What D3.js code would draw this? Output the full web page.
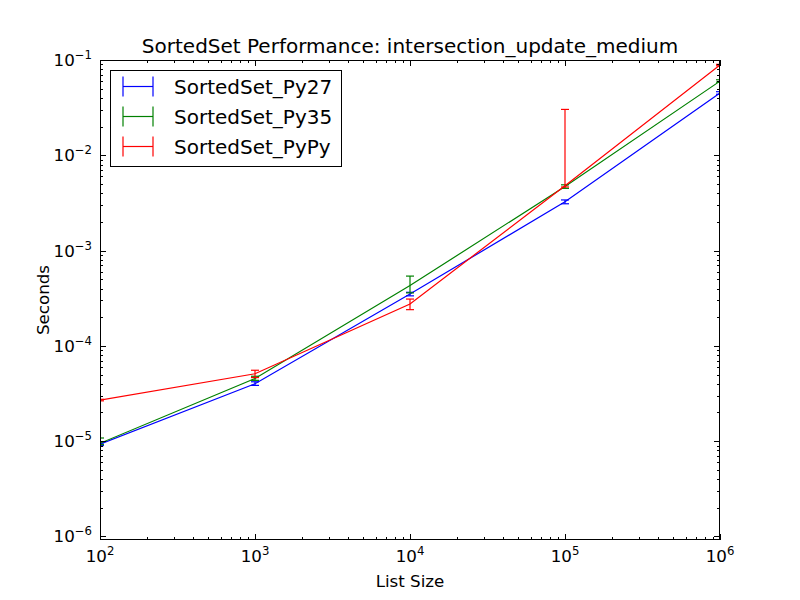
<!DOCTYPE html>
<html><head><meta charset="utf-8">
<script src="https://cdn.jsdelivr.net/npm/d3@7"></script>
<style>body{margin:0;background:#fff} text{font-family:"DejaVu Sans",sans-serif;fill:#000}</style>
</head><body><svg id="c" width="800" height="600"></svg>
<script>
// ---- data ----
const listSizes = [1e2, 1e3, 1e4, 1e5, 1e6];
const seriesNames = ["SortedSet_Py27", "SortedSet_Py35", "SortedSet_PyPy"];
const py27Mean = [9.3e-6, 4.0e-5, 3.5e-4, 3.25e-3, 0.0450];
const py27Low  = [9.0e-6, 3.85e-5, 3.35e-4, 3.1e-3, 0.0437];
const py27High = [9.6e-6, 4.2e-5, 3.65e-4, 3.4e-3, 0.0465];
const py35Mean = [9.5e-6, 4.55e-5, 4.3e-4, 4.7e-3, 0.0600];
const py35Low  = [9.2e-6, 4.35e-5, 3.6e-4, 4.5e-3, 0.0585];
const py35High = [1.08e-5, 4.8e-5, 5.4e-4, 4.9e-3, 0.0620];
const pypyMean = [2.7e-5, 5.1e-5, 2.75e-4, 4.8e-3, 0.0885];
const pypyLow  = [2.65e-5, 4.65e-5, 2.4e-4, 4.65e-3, 0.0870];
const pypyHigh = [2.75e-5, 5.55e-5, 3.1e-4, 0.0303, 0.0900];
const seriesColors = ["#0000ff", "#008000", "#ff0000"];
const titleText = "SortedSet Performance: intersection_update_medium";
const xLabelText = "List Size";
const yLabelText = "Seconds";

const series = [
  {name: seriesNames[0], mean: py27Mean, lo: py27Low, hi: py27High, color: seriesColors[0]},
  {name: seriesNames[1], mean: py35Mean, lo: py35Low, hi: py35High, color: seriesColors[1]},
  {name: seriesNames[2], mean: pypyMean, lo: pypyLow, hi: pypyHigh, color: seriesColors[2]},
];

// ---- layout ----
const L = 100, R = 720, T = 60, B = 540;
const svg = d3.select("#c");
const x = d3.scaleLog().domain([1e2, 1e6]).range([L, R]);
const y = d3.scaleLog().domain([Math.pow(10, -6.037), 0.1]).range([B, T]);

svg.append("defs").append("clipPath").attr("id", "clip")
  .append("rect").attr("x", L).attr("y", T).attr("width", R - L).attr("height", B - T);

const g = svg.append("g").attr("clip-path", "url(#clip)");
const line = d3.line().x(d => x(d[0])).y(d => y(d[1]));
series.forEach(s => {
  const pts = listSizes.map((v, i) => [v, s.mean[i]]);
  g.append("path").attr("d", line(pts)).attr("fill", "none")
    .attr("stroke", s.color).attr("stroke-width", 1.2);
  listSizes.forEach((v, i) => {
    const cx = x(v), y0 = y(s.lo[i]), y1 = y(s.hi[i]);
    g.append("line").attr("x1", cx).attr("x2", cx).attr("y1", y0).attr("y2", y1)
      .attr("stroke", s.color).attr("stroke-width", 1.2);
    [y0, y1].forEach(yy => g.append("line").attr("x1", cx - 4).attr("x2", cx + 4)
      .attr("y1", yy).attr("y2", yy).attr("stroke", s.color).attr("stroke-width", 1.2));
  });
});

// ---- ticks ----
const isMajor = v => Math.abs(Math.log10(v) - Math.round(Math.log10(v))) < 1e-9;
const exp = v => Math.round(Math.log10(v));
const tk = svg.append("g").attr("stroke", "#000").attr("stroke-width", 1);
x.ticks().forEach(v => {
  const px = Math.round(x(v)) + 0.5, len = isMajor(v) ? 6 : 3;
  tk.append("line").attr("x1", px).attr("x2", px).attr("y1", B).attr("y2", B - len);
  tk.append("line").attr("x1", px).attr("x2", px).attr("y1", T).attr("y2", T + len);
});
const yTicks = d3.range(-6, 0).flatMap(e => d3.range(1, 10).map(m => m * Math.pow(10, e)))
  .filter(v => v >= y.domain()[0] * 0.999 && v <= 0.1001);
yTicks.forEach(v => {
  const py = Math.round(y(v)) + 0.5, len = isMajor(v) ? 6 : 3;
  tk.append("line").attr("x1", L).attr("x2", L + len).attr("y1", py).attr("y2", py);
  tk.append("line").attr("x1", R).attr("x2", R - len).attr("y1", py).attr("y2", py);
});

function powLabel(sel, e) {
  sel.append("tspan").text("10");
  sel.append("tspan").attr("font-size", "11.7px").attr("dy", -7).text(String(e).replace("-", "\u2212"));
}
listSizes.forEach(v => {
  const t = svg.append("text").attr("x", x(v)).attr("y", 562).attr("text-anchor", "middle")
    .attr("font-size", "16.7px");
  powLabel(t, exp(v));
});
yTicks.filter(isMajor).forEach(v => {
  const t = svg.append("text").attr("x", 92).attr("y", y(v) + 6).attr("text-anchor", "end")
    .attr("font-size", "16.7px");
  powLabel(t, exp(v));
});

// frame
svg.append("rect").attr("x", L + 0.5).attr("y", T + 0.5).attr("width", R - L - 1).attr("height", B - T - 1)
  .attr("fill", "none").attr("stroke", "#000").attr("stroke-width", 1);

// labels
svg.append("text").attr("x", (L + R) / 2).attr("y", 53).attr("text-anchor", "middle")
  .attr("font-size", "20px").text(titleText);
svg.append("text").attr("x", (L + R) / 2).attr("y", 587).attr("text-anchor", "middle")
  .attr("font-size", "16.7px").text(xLabelText);
svg.append("text").attr("transform", `translate(49,${(T + B) / 2}) rotate(-90)`)
  .attr("text-anchor", "middle").attr("font-size", "16.7px").text(yLabelText);

// legend
const lg = svg.append("g");
lg.append("rect").attr("x", 110.5).attr("y", 70.5).attr("width", 231).attr("height", 96)
  .attr("fill", "#fff").attr("stroke", "#000").attr("stroke-width", 1);
series.forEach((s, i) => {
  const ry = 86.5 + i * 30;
  lg.append("line").attr("x1", 123).attr("x2", 153).attr("y1", ry).attr("y2", ry)
    .attr("stroke", s.color).attr("stroke-width", 1.2);
  [123, 153].forEach(xx => lg.append("line").attr("x1", xx).attr("x2", xx)
    .attr("y1", ry - 10).attr("y2", ry + 10).attr("stroke", s.color).attr("stroke-width", 1.2));
  lg.append("text").attr("x", 174).attr("y", ry + 7).attr("font-size", "20px").text(s.name);
});
</script></body></html>
